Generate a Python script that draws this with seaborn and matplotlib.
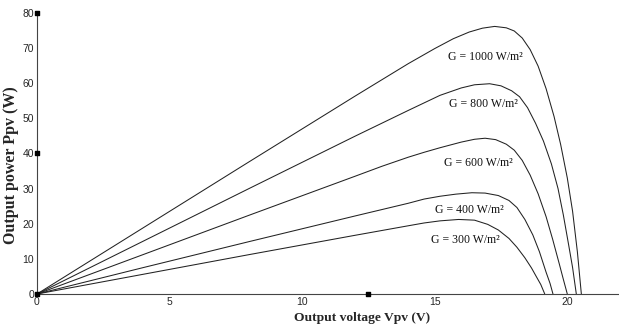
import matplotlib
matplotlib.use("Agg")
import matplotlib.pyplot as plt
import seaborn as sns
import pandas as pd

# ---- data ----
v_1000 = [0, 4, 8, 12, 14, 15, 15.7, 16.3, 16.8, 17.26, 17.7, 18.0, 18.3, 18.6, 18.9, 19.2, 19.5, 19.75, 20.0, 20.2, 20.38, 20.53]
p_1000 = [0, 18.8, 37.6, 56.3, 65.5, 69.8, 72.6, 74.5, 75.6, 76.1, 75.7, 74.8, 72.8, 69.5, 64.8, 58.4, 50.5, 42.5, 33.0, 23.5, 12.0, 0]

v_800 = [0, 4, 8, 12, 14, 15.2, 16.0, 16.5, 17.07, 17.5, 17.9, 18.2, 18.5, 18.8, 19.1, 19.4, 19.65, 19.85, 20.05, 20.2, 20.34]
p_800 = [0, 15.0, 30.0, 44.9, 52.2, 56.5, 58.6, 59.5, 59.8, 59.2, 57.8, 56.1, 53.0, 48.6, 43.5, 37.0, 30.0, 22.5, 14.0, 7.5, 0]

v_600 = [0, 4, 8, 12, 13, 14, 14.6, 15.2, 16.0, 16.5, 16.9, 17.3, 17.7, 18.0, 18.3, 18.6, 18.9, 19.2, 19.45, 19.7, 19.85, 20.0]
p_600 = [0, 11.2, 22.4, 33.5, 36.3, 38.9, 40.3, 41.6, 43.2, 44.0, 44.3, 43.9, 42.6, 40.9, 38.0, 33.8, 28.5, 22.0, 15.5, 8.5, 4.2, 0]

v_400 = [0, 4, 8, 12, 14, 14.6, 15.2, 15.8, 16.4, 16.9, 17.4, 17.8, 18.1, 18.4, 18.7, 18.95, 19.2, 19.35, 19.46]
p_400 = [0, 7.5, 14.9, 22.2, 25.8, 27.0, 27.8, 28.4, 28.8, 28.7, 28.0, 26.6, 24.6, 21.2, 16.8, 12.0, 6.2, 3.0, 0]

v_300 = [0, 4, 8, 12, 14, 14.6, 15.2, 15.9, 16.5, 17.0, 17.4, 17.8, 18.1, 18.4, 18.65, 18.85, 19.0, 19.15]
p_300 = [0, 5.6, 11.2, 16.7, 19.4, 20.2, 20.8, 21.2, 21.0, 19.8, 18.2, 15.8, 13.3, 10.3, 7.4, 4.7, 2.7, 0]

curve_names = ["G = 1000 W/m\u00b2", "G = 800 W/m\u00b2", "G = 600 W/m\u00b2",
               "G = 400 W/m\u00b2", "G = 300 W/m\u00b2"]
label_v = [16.9, 16.83, 16.66, 16.32, 16.17]
label_p = [67.3, 54.0, 37.2, 23.9, 15.3]

marker_v = [0, 0, 0, 12.5]
marker_p = [80, 40, 0, 0]

x_ticks = [0, 5, 10, 15, 20]
y_ticks = [0, 10, 20, 30, 40, 50, 60, 70, 80]

# ---- build long table ----
frames = []
for name, v, p in zip(curve_names,
                      [v_1000, v_800, v_600, v_400, v_300],
                      [p_1000, p_800, p_600, p_400, p_300]):
    frames.append(pd.DataFrame({"V": v, "P": p, "G": name}))
df = pd.concat(frames, ignore_index=True)

sns.set_style("white")
plt.rcParams["font.family"] = ["Liberation Serif", "DejaVu Serif"]

fig = plt.figure(figsize=(6.19, 3.31), dpi=100)
ax_h = (294 - 12.7) / 331
ax = fig.add_axes([37 / 619, 1 - 294 / 331, 1 - 37 / 619, ax_h])

sns.lineplot(data=df, x="V", y="P", hue="G", units="G", estimator=None, sort=False,
             palette=["#222222"] * 5, linewidth=0.75, legend=False, ax=ax)

ax.scatter(marker_v, marker_p, marker="s", s=10, color="black", zorder=5, clip_on=False)

for name, lv, lp in zip(curve_names, label_v, label_p):
    ax.text(lv, lp, name, ha="center", va="center", fontsize=8.5,
            family=["Liberation Serif"], color="#111111")

ax.set_xlim(0, 21.95)
ax.set_ylim(0, 80)
ax.set_xticks(x_ticks)
ax.set_yticks(y_ticks)
ax.set_xticklabels([str(t) for t in x_ticks], family=["Liberation Sans"], fontsize=7.5)
ax.set_yticklabels([str(t) for t in y_ticks], family=["Liberation Sans"], fontsize=7.5)
ax.tick_params(direction="in", length=4, width=0.7, color="#333333", pad=2)

for s in ["top", "right"]:
    ax.spines[s].set_visible(False)
for s in ["left", "bottom"]:
    ax.spines[s].set_color("#444444")
    ax.spines[s].set_linewidth(0.8)

ax.set_xlabel("Output voltage Vpv (V)", fontsize=9.7, fontweight="bold",
              family=["Liberation Serif"])
ax.set_ylabel("Output power Ppv (W)", fontsize=11.5, fontweight="bold",
              family=["Liberation Serif"])
# label placement as in the reference
ax.xaxis.set_label_coords(12.25 / 21.95, -(312 - 294) / (294 - 12.7), transform=ax.transAxes)
ax.yaxis.set_label_coords(-(37 - 19) / 582, 36.6 / 80, transform=ax.transAxes)

fig.savefig("out.png", dpi=100)
